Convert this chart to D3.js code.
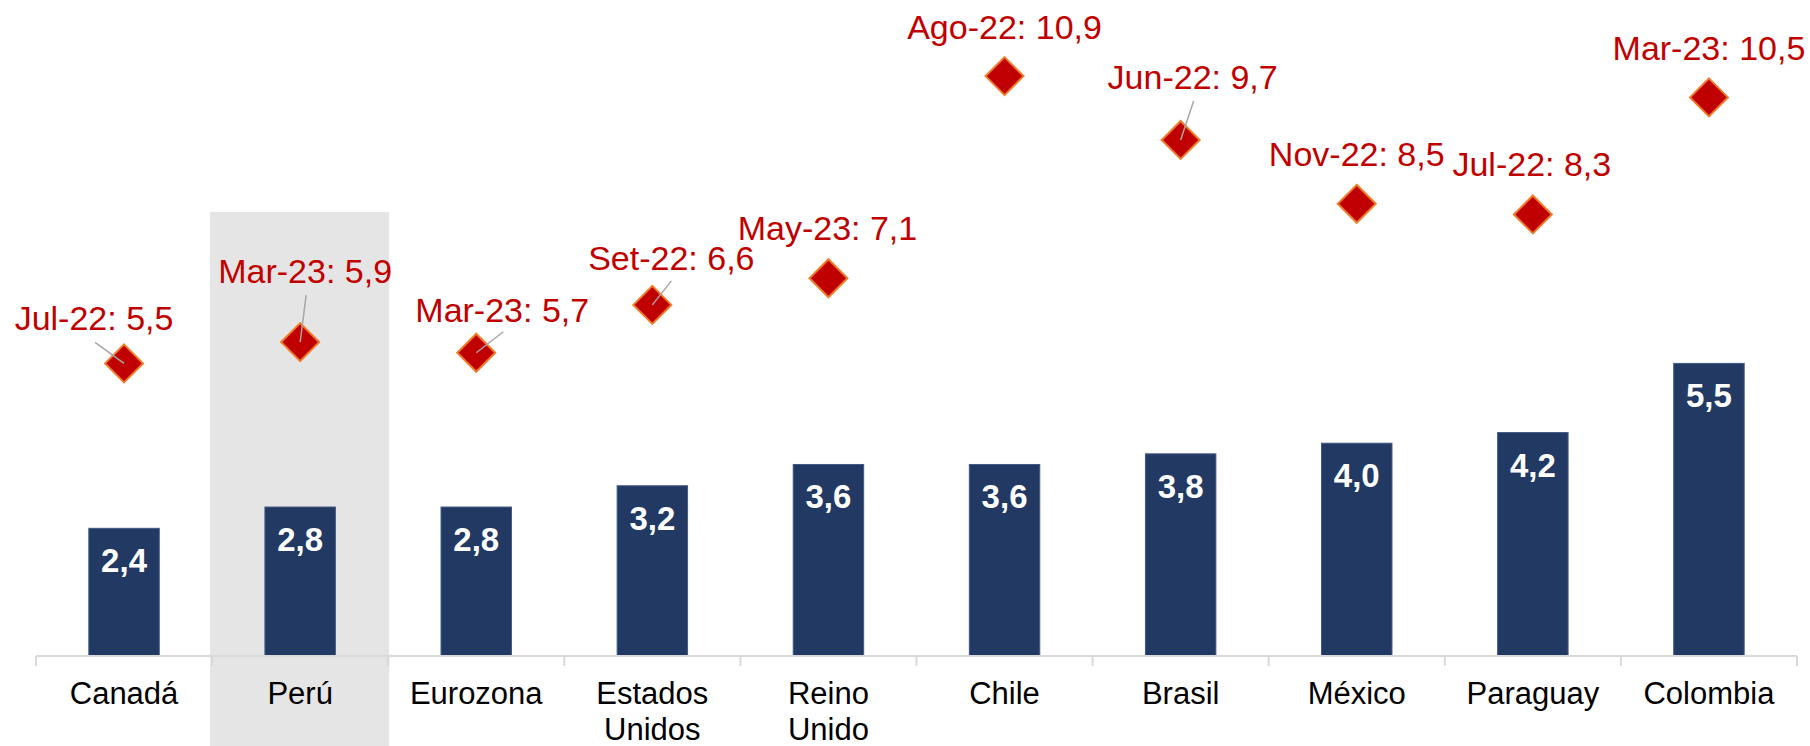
<!DOCTYPE html>
<html>
<head>
<meta charset="utf-8">
<script src="https://cdn.jsdelivr.net/npm/d3@7"></script>
<style>
  body { margin: 0; background: #fff; }
  text { font-family: Arial, 'Liberation Sans', sans-serif; }
</style>
</head>
<body>
<div id="plot"></div>
<script>
// data
var categories = [['Canadá'], ['Perú'], ['Eurozona'], ['Estados', 'Unidos'], ['Reino', 'Unido'],
                  ['Chile'], ['Brasil'], ['México'], ['Paraguay'], ['Colombia']];
var barValues = [2.4, 2.8, 2.8, 3.2, 3.6, 3.6, 3.8, 4.0, 4.2, 5.5];
var peakValues = [5.5, 5.9, 5.7, 6.6, 7.1, 10.9, 9.7, 8.5, 8.3, 10.5];
var peakDates = ['Jul-22', 'Mar-23', 'Mar-23', 'Set-22', 'May-23', 'Ago-22', 'Jun-22', 'Nov-22', 'Jul-22', 'Mar-23'];
var highlight = 'Perú';

// label placement relative to the marker (dx, dy of label) and leader line start
var labelOffsets = [[-30, -33], [5, -59], [26, -31], [19, -35], [-1, -38],
                    [0, -37], [12, -51], [0, -38], [-1, -38], [0, -37]];
var leaders = [[-29, -21], [6, -47], [27, -21], [19, -24], null,
               null, [13, -39], null, null, null];

var fmt = function(v) { return d3.format('.1f')(v).replace('.', ','); };

var svg_width = 1810;
var svg_height = 746;
var left = 36, right = 1797;
var base = 656;
var bandTop = 212;

var svg = d3.select('#plot').append('svg')
    .attr('width', svg_width)
    .attr('height', svg_height);

var names = categories.map(d => d.join(' '));

var xscale = d3.scaleBand()
    .domain(names)
    .range([left, right])
    .paddingInner(0.6)
    .paddingOuter(0.3);

var xgroup = d3.scaleBand()
    .domain(names)
    .range([left, right]);

var yscale = d3.scaleLinear()
    .domain([0, 12])
    .range([base, base - 12 * 53.2]);

var cx = function(i) { return xscale(names[i]) + xscale.bandwidth() / 2; };

// shaded Peru column
svg.append('rect')
  .attr('x', xgroup(highlight) - 2)
  .attr('y', bandTop)
  .attr('width', xgroup.bandwidth() + 3)
  .attr('height', svg_height - bandTop)
  .attr('fill', '#e5e5e5');

// bars
svg.selectAll('rect.bar')
  .data(barValues)
  .enter().append('rect')
    .attr('class', 'bar')
    .attr('x', (d, i) => xscale(names[i]))
    .attr('y', d => yscale(d))
    .attr('width', xscale.bandwidth())
    .attr('height', d => yscale(0) - yscale(d))
    .attr('fill', '#223963')
    .attr('stroke', '#3f5887')
    .attr('stroke-width', 1);

svg.selectAll('text.barlabel')
  .data(barValues)
  .enter().append('text')
    .attr('class', 'barlabel')
    .attr('x', (d, i) => cx(i))
    .attr('y', d => yscale(d) + 44)
    .attr('text-anchor', 'middle')
    .attr('fill', 'white')
    .attr('font-weight', 'bold')
    .attr('font-size', '33px')
    .text(fmt);

// x axis
var axis = svg.append('g')
    .attr('class', 'xaxis')
    .attr('transform', 'translate(0, ' + base + ')');

axis.append('line')
  .attr('x1', left).attr('x2', right)
  .attr('stroke', '#d9d9d9')
  .attr('stroke-width', 2);

axis.selectAll('line.tick')
  .data(names.concat(['end']))
  .enter().append('line')
    .attr('class', 'tick')
    .attr('x1', d => d == 'end' ? right : xgroup(d))
    .attr('x2', d => d == 'end' ? right : xgroup(d))
    .attr('y1', 0).attr('y2', 10)
    .attr('stroke', '#d9d9d9')
    .attr('stroke-width', 2);

var catLabels = axis.selectAll('text.cat')
  .data(categories)
  .enter().append('text')
    .attr('class', 'cat')
    .attr('text-anchor', 'middle')
    .attr('font-size', '31px')
    .attr('fill', '#000');

catLabels.selectAll('tspan')
  .data((d, i) => d.map(t => ({t: t, i: i})))
  .enter().append('tspan')
    .attr('x', d => xgroup(names[d.i]) + xgroup.bandwidth() / 2)
    .attr('y', (d, j) => 48 + j * 36)
    .text(d => d.t);

// peak markers
var peaks = peakValues.map((v, i) => ({v: v, i: i, date: peakDates[i], off: labelOffsets[i], lead: leaders[i]}));

var diamond = 'M0,-19L19,0L0,19L-19,0Z';
svg.selectAll('path.peak')
  .data(peaks)
  .enter().append('path')
    .attr('class', 'peak')
    .attr('d', diamond)
    .attr('transform', d => 'translate(' + cx(d.i) + ',' + yscale(d.v) + ')')
    .attr('fill', '#c00000')
    .attr('stroke', '#f07d2a')
    .attr('stroke-width', 2);

// leader lines
svg.selectAll('line.leader')
  .data(peaks.filter(d => d.lead))
  .enter().append('line')
    .attr('class', 'leader')
    .attr('x1', d => cx(d.i) + d.lead[0])
    .attr('y1', d => yscale(d.v) + d.lead[1])
    .attr('x2', d => cx(d.i))
    .attr('y2', d => yscale(d.v))
    .attr('stroke', '#a6a6a6')
    .attr('stroke-width', 1.5);

svg.selectAll('text.peaklabel')
  .data(peaks)
  .enter().append('text')
    .attr('class', 'peaklabel')
    .attr('x', d => cx(d.i) + d.off[0])
    .attr('y', d => yscale(d.v) + d.off[1])
    .attr('text-anchor', 'middle')
    .attr('fill', '#c00000')
    .attr('font-size', '34px')
    .text(d => d.date + ': ' + fmt(d.v));
</script>
</body>
</html>
